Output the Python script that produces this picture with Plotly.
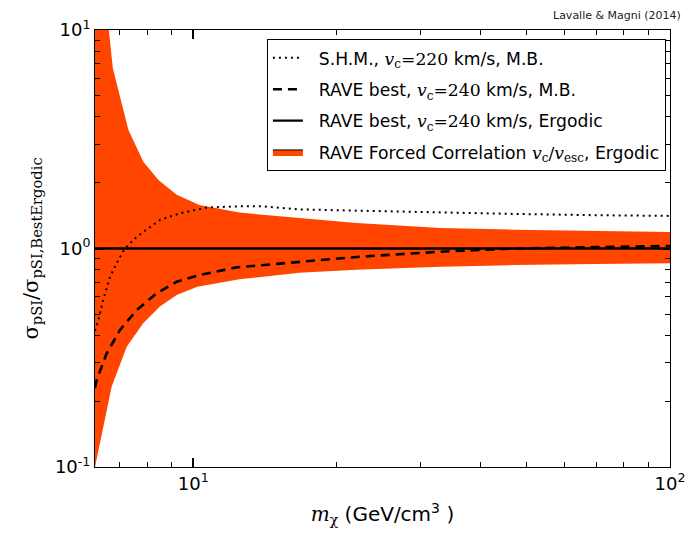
import math
import plotly.graph_objects as go

# ---- data ----
band_mass = [6.22, 6.5, 6.65, 6.78, 7.31, 7.85, 8.45, 9.23, 10.3, 12.5, 16.7, 22, 33, 47, 70, 100]
band_upper = [30, 17, 10, 6.68, 3.49, 2.50, 2.06, 1.76, 1.58, 1.46, 1.38, 1.31, 1.24, 1.22, 1.20, 1.19]

low_mass = [6.22, 6.47, 6.74, 7.25, 7.85, 8.51, 9.23, 10.2, 12.5, 16.7, 22, 33, 47, 70, 100]
band_lower = [0.10, 0.153, 0.233, 0.355, 0.455, 0.542, 0.613, 0.669, 0.723, 0.775, 0.80, 0.825, 0.84, 0.85, 0.855]

shm_mass = [6.22, 6.32, 6.47, 6.69, 6.95, 7.19, 7.5, 7.85, 8.51, 9.38, 10.67, 12.5, 14, 16.7, 22, 33, 47, 70, 100]
shm_ratio = [0.42, 0.47, 0.58, 0.743, 0.88, 1.0, 1.10, 1.19, 1.35, 1.45, 1.54, 1.56, 1.56, 1.51, 1.49, 1.46, 1.44, 1.42, 1.41]

mb_mass = [6.22, 6.27, 6.58, 7.02, 7.61, 8.38, 9.23, 10.3, 12.33, 16.7, 22, 33, 47, 70, 100]
mb_ratio = [0.23, 0.25, 0.331, 0.424, 0.523, 0.624, 0.705, 0.756, 0.82, 0.87, 0.915, 0.967, 1.0, 1.015, 1.027]

erg_mass = [6.22, 100]
erg_ratio = [1.0, 1.0]

x_range = [6.22, 100]
y_range = [0.1, 10]
x_ticks = [10, 100]
x_ticktext = ["10<sup>1</sup>", "10<sup>2</sup>"]
y_ticks = [0.1, 1, 10]
y_ticktext = ["10<sup>-1</sup>", "10<sup>0</sup>", "10<sup>1</sup>"]
x_minor = [7, 8, 9, 20, 30, 40, 50, 60, 70, 80, 90]
y_minor = [0.2, 0.3, 0.4, 0.5, 0.6, 0.7, 0.8, 0.9, 2, 3, 4, 5, 6, 7, 8, 9]

ORANGE = "#FF4500"
SERIF = "'DejaVu Serif', serif"

def m(s):
    return "<span style=\"font-family:%s\">%s</span>" % (SERIF, s)

fig = go.Figure()

# band as one closed polygon: lower edge forward, upper edge backward
poly_x = low_mass + band_mass[::-1]
poly_y = band_lower + band_upper[::-1]
fig.add_trace(go.Scatter(x=poly_x, y=poly_y, mode="lines", fill="toself",
                         line=dict(width=0, color=ORANGE), fillcolor=ORANGE,
                         showlegend=False, hoverinfo="skip"))

fig.add_trace(go.Scatter(x=shm_mass, y=shm_ratio, mode="lines", legendgroup="g1",
                         line=dict(color="black", width=2, dash="2px,4px"),
                         name="  S.H.M., " + m("<i>v</i><sub>c</sub>=220") + " km/s, M.B."))
fig.add_trace(go.Scatter(x=mb_mass, y=mb_ratio, mode="lines", legendgroup="g2",
                         line=dict(color="black", width=2.6, dash="9px,6px"),
                         name="  RAVE best, " + m("<i>v</i><sub>c</sub>=240") + " km/s, M.B."))
fig.add_trace(go.Scatter(x=erg_mass, y=erg_ratio, mode="lines", legendgroup="g3",
                         line=dict(color="black", width=2.4),
                         name="  RAVE best, " + m("<i>v</i><sub>c</sub>=240") + " km/s, Ergodic"))
# legend entry for the band
fig.add_trace(go.Scatter(x=[None], y=[None], mode="lines", fill="toself", legendgroup="g4",
                         fillcolor=ORANGE, line=dict(color="black", width=1),
                         name="  RAVE Forced Correlation " + m("<i>v</i><sub>c</sub>/<i>v</i><sub>esc</sub>") + ", Ergodic"))

axis_common = dict(showline=True, linecolor="black", linewidth=1, mirror="allticks",
                   ticks="inside", ticklen=9, tickwidth=2, tickcolor="black",
                   showgrid=False, zeroline=False,
                   tickfont=dict(family="DejaVu Sans", size=18, color="black"))

fig.update_xaxes(type="log", range=[math.log10(v) for v in x_range],
                 tickmode="array", tickvals=x_ticks, ticktext=x_ticktext,
                 minor=dict(tickmode="array", tickvals=x_minor, ticks="inside",
                            ticklen=5, tickwidth=1, tickcolor="black", showgrid=False),
                 title=dict(text=m("<i>m</i><sub>χ</sub>") + " (GeV/cm<sup>3</sup> )",
                            font=dict(family="DejaVu Sans", size=20, color="black"),
                            standoff=14),
                 **axis_common)
fig.update_yaxes(type="log", range=[math.log10(v) for v in y_range],
                 tickmode="array", tickvals=y_ticks, ticktext=y_ticktext,
                 minor=dict(tickmode="array", tickvals=y_minor, ticks="inside",
                            ticklen=5, tickwidth=1, tickcolor="black", showgrid=False),
                 title=dict(text="σ<sub>pSI</sub>/σ<sub>pSI,BestErgodic</sub>",
                            font=dict(family=SERIF, size=21, color="black"),
                            standoff=10),
                 **axis_common)

fig.update_layout(
    width=694, height=536,
    margin=dict(l=95, r=24, t=30, b=69, autoexpand=False),
    paper_bgcolor="white", plot_bgcolor="white",
    font=dict(family="DejaVu Sans", color="black"),
    legend=dict(x=0.299, y=0.979, xanchor="left", yanchor="top",
                bgcolor="white", bordercolor="black", borderwidth=1,
                font=dict(family="DejaVu Sans", size=17.2, color="black"),
                traceorder="grouped", tracegroupgap=6, itemwidth=30),
    annotations=[dict(text="Lavalle & Magni (2014)", xref="paper", yref="paper",
                      x=1.0226, y=1.034, xanchor="right", yanchor="middle",
                      showarrow=False, font=dict(family="DejaVu Sans", size=11, color="#222"))],
)

fig.write_html("out.html")
